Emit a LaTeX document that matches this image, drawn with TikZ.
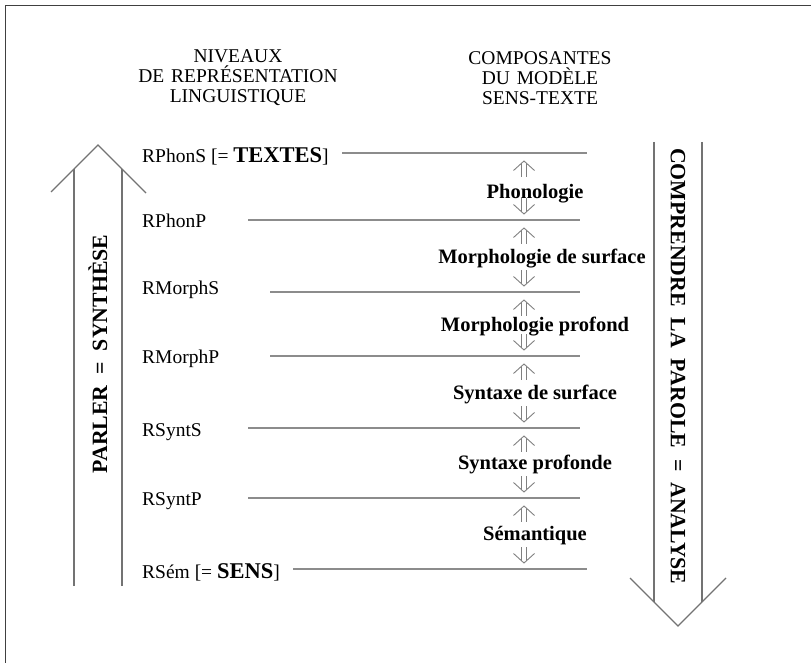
\documentclass[tikz,border=0pt]{standalone}
\usepackage{fontspec}
\setmainfont{Liberation Serif}
\begin{document}
\begin{tikzpicture}[x=1pt,y=-1pt,
  header/.style={align=center,inner sep=0pt,font=\fontsize{19.5}{20}\selectfont},
  level/.style={anchor=base west,inner sep=0pt,font=\fontsize{19.5}{22}\selectfont},
  comp/.style={anchor=base,inner sep=0pt,font=\fontsize{20.5}{24}\selectfont\bfseries},
  rot/.style={inner sep=0pt,font=\fontsize{21.8}{24}\selectfont\bfseries},
  levelline/.style={draw=black!45,line width=1.1pt},
  bigarrow/.style={draw=black!55,line width=1.1pt,line join=miter},
  frameline/.style={draw=black!75,line width=1.3pt},
  upar/.pic={
    \draw[black!50,line width=0.9pt] (-2.5,2.4) -- (-2.5,16) (2.5,2.4) -- (2.5,16);
    \draw[black!50,line width=0.9pt] (-10.5,9.5) -- (0,0) -- (10.5,9.5);
  },
  downar/.pic={
    \draw[black!50,line width=0.9pt] (-2.5,-2.4) -- (-2.5,-16) (2.5,-2.4) -- (2.5,-16);
    \draw[black!50,line width=0.9pt] (-10.5,-9.5) -- (0,0) -- (10.5,-9.5);
  }]
\useasboundingbox (0,0) rectangle (811,663);

% frame
\draw[frameline] (5.5,663) -- (5.5,5.5) -- (811,5.5);

% column headings
\node[header] (hlevels) at (238,78) {NIVEAUX\\DE\hspace{0.35em}REPRÉSENTATION\\LINGUISTIQUE};
\node[header] (hcomps) at (540,78) {COMPOSANTES\\DU\hspace{0.35em}MODÈLE\\SENS-TEXTE};

% levels of representation
\node[level] (rphons) at (142,163) {RPhonS [= {\fontsize{22.5}{24}\selectfont\bfseries TEXTES}]};
\node[level] (rphonp) at (142,228) {RPhonP};
\node[level] (rmorphs) at (142,294) {RMorphS};
\node[level] (rmorphp) at (142,363) {RMorphP};
\node[level] (rsynts) at (142,436) {RSyntS};
\node[level] (rsyntp) at (142,505) {RSyntP};
\node[level] (rsem) at (142,578) {RSém [= {\fontsize{22.5}{24}\selectfont\bfseries SENS}]};

\draw[levelline] (342,153) -- (587,153);
\draw[levelline] (248,220) -- (580,220);
\draw[levelline] (270,292) -- (580,292);
\draw[levelline] (270,356) -- (580,356);
\draw[levelline] (248,428) -- (580,428);
\draw[levelline] (248,498) -- (580,498);
\draw[levelline] (293,569) -- (587,569);

% components of the model
\node[comp] (phon) at (535,199) {Phonologie};
\node[comp] (morphs) at (542,263) {Morphologie de surface};
\node[comp] (morphp) at (535,331) {Morphologie profond};
\node[comp] (synts) at (535,399) {Syntaxe de surface};
\node[comp] (syntp) at (535,469) {Syntaxe profonde};
\node[comp] (sem) at (535,540) {Sémantique};

% double arrows between the levels
\foreach \top/\bot in {153/220,220/292,292/356,356/428,428/498,498/569}{
  \pic at (524,\top+8) {upar};
  \pic at (524,\bot-6) {downar};
}

% synthesis arrow (upwards)
\draw[bigarrow] (74,586) -- (74,169);
\draw[bigarrow] (122,586) -- (122,169);
\draw[bigarrow] (51,192) -- (98,145) -- (146,193);
\node[rot,rotate=90] (parler) at (98,354) {PARLER\hspace{0.5em}=\hspace{0.5em}SYNTHÈSE};

% analysis arrow (downwards)
\draw[bigarrow] (654,142) -- (654,602);
\draw[bigarrow] (702,142) -- (702,602);
\draw[bigarrow] (630,578) -- (678,626) -- (726,578);
\node[rot,rotate=-90,anchor=west] (comprendre) at (678,148) {COMPRENDRE\hspace{0.5em}LA\hspace{0.5em}PAROLE\hspace{0.5em}=\hspace{0.5em}ANALYSE};
\end{tikzpicture}
\end{document}
